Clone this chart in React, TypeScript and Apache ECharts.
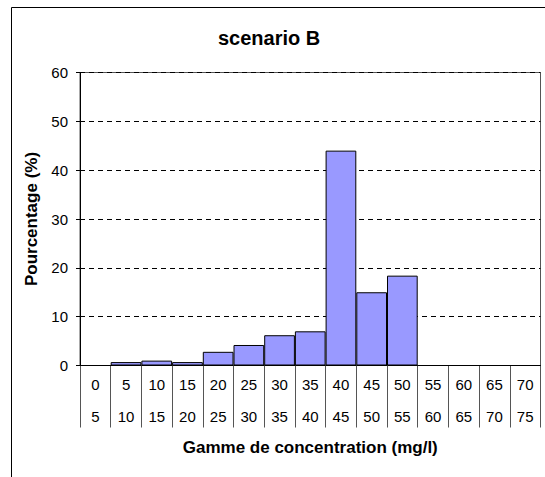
import React, { useEffect, useRef } from "react";
import * as echarts from "echarts";

// Concentration bins (mg/l): lower and upper bounds
const binLow = ["0", "5", "10", "15", "20", "25", "30", "35", "40", "45", "50", "55", "60", "65", "70"];
const binHigh = ["5", "10", "15", "20", "25", "30", "35", "40", "45", "50", "55", "60", "65", "70", "75"];
// Share of samples in each bin (%)
const percentages = [0, 0.7, 1.0, 0.7, 2.8, 4.2, 6.2, 7.0, 44.0, 15.0, 18.4, 0, 0, 0, 0];

const FONT = "'Liberation Sans', Arial, Helvetica, sans-serif";

export default function App() {
  const ref = useRef<HTMLDivElement>(null);

  useEffect(() => {
    if (!ref.current) return;
    const chart = echarts.init(ref.current, null, { renderer: "svg" });
    chart.setOption({
      animation: false,
      backgroundColor: "#ffffff",
      textStyle: { fontFamily: FONT },
      title: {
        text: "scenario B",
        left: 218,
        top: 28,
        padding: 0,
        textStyle: { fontFamily: FONT, fontSize: 20, fontWeight: "bold", color: "#000" },
      },
      graphic: [
        {
          type: "rect",
          shape: { x: 11.5, y: 7.5, width: 600, height: 600 },
          style: { fill: "none", stroke: "#000", lineWidth: 1 },
          silent: true,
        },
      ],
      grid: {
        left: 80,
        right: 4.5,
        top: 72.5,
        bottom: 111.5,
        show: true,
        borderColor: "#555",
        borderWidth: 1,
        backgroundColor: "transparent",
      },
      xAxis: {
        type: "category",
        data: binLow,
        boundaryGap: true,
        name: "Gamme de concentration (mg/l)",
        nameLocation: "middle",
        nameGap: 82,
        nameTextStyle: {
          fontFamily: FONT,
          fontSize: 17,
          fontWeight: "bold",
          color: "#000",
          verticalAlign: "middle",
        },
        axisLine: { show: true, lineStyle: { color: "#000", width: 1 } },
        axisTick: {
          show: true,
          interval: 0,
          length: 62,
          lineStyle: { color: "#555", width: 1 },
        },
        axisLabel: {
          interval: 0,
          margin: 3,
          fontFamily: FONT,
          fontSize: 15,
          color: "#000",
          lineHeight: 32,
          formatter: (v: string, i: number) => `${v}\n${binHigh[i]}`,
        },
        splitLine: { show: false },
      },
      yAxis: {
        type: "value",
        min: 0,
        max: 60,
        interval: 10,
        name: "Pourcentage (%)",
        nameLocation: "middle",
        nameGap: 47,
        nameRotate: 90,
        nameTextStyle: {
          fontFamily: FONT,
          fontSize: 17,
          fontWeight: "bold",
          color: "#000",
          verticalAlign: "middle",
        },
        axisLine: { show: true, lineStyle: { color: "#000", width: 1 } },
        axisTick: { show: true, length: 4, lineStyle: { color: "#000" } },
        axisLabel: { margin: 12, fontFamily: FONT, fontSize: 15, color: "#000" },
        splitLine: {
          show: true,
          lineStyle: { color: "#000", type: [5, 4], width: 1 },
        },
      },
      series: [
        {
          type: "bar",
          data: percentages,
          barCategoryGap: "0%",
          itemStyle: { color: "#9999FF", borderColor: "#000", borderWidth: 1 },
        },
      ],
    });
    return () => chart.dispose();
  }, []);

  return (
    <div
      ref={ref}
      style={{ position: "absolute", left: 0, top: 0, width: 545, height: 477 }}
    />
  );
}
